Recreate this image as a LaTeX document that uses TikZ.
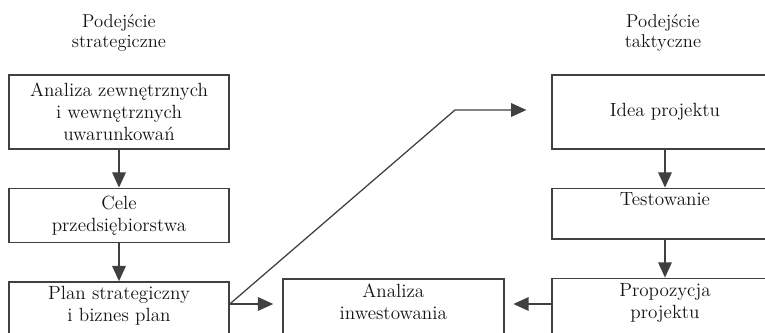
\documentclass[tikz,border=0pt]{standalone}
\usepackage{tikz}
\usetikzlibrary{positioning,arrows.meta}

\begin{document}
\begin{tikzpicture}[x=0.025cm, y=-0.025cm, text=black!92,
    font=\fontsize{13.6}{15.6}\selectfont,
    blok/.style={draw=black!75, line width=1.1pt, align=center, minimum width=5.5cm},
    strz/.style={draw=black!75, line width=0.9pt, -{Triangle[length=0.38cm,width=0.34cm]}},
    tytul/.style={align=center, font=\fontsize{13.2}{14.2}\selectfont}]
  \useasboundingbox (0,0) rectangle (765,333);
  \clip (0,0) rectangle (765,333);

  \node[tytul] (strat) at (119,33) {Podejście\\strategiczne};
  \node[tytul] (takt) at (663,33) {Podejście\\taktyczne};

  % lewa kolumna
  \node[blok, anchor=north, minimum height=1.85cm] (uwar) at (119,74) {Analiza zewnętrznych\\i wewnętrznych\\uwarunkowań};
  \node[blok, below=0.95cm of uwar, minimum height=1.35cm] (cele) {Cele\\przedsiębiorstwa};
  \node[blok, below=0.95cm of cele, text depth=2cm] (plan) {Plan strategiczny\\i biznes plan};

  % prawa kolumna
  \node[blok, anchor=north, minimum width=5.65cm, minimum height=1.85cm] (idea) at (665,74) {Idea projektu};
  \node[blok, below=0.95cm of idea, minimum width=5.65cm, text depth=20pt] (test) {Testowanie};
  \node[blok, below=0.95cm of test, minimum width=5.65cm, text depth=2cm] (prop) {Propozycja\\projektu};

  \node[blok, anchor=north west, minimum width=5.525cm, text depth=2cm] (inw) at (282,278) {Analiza\\inwestowania};

  \coordinate (poziom) at (0,304);
  \coordinate (zalam) at (455,110);

  \draw[strz] (uwar) -- (cele);
  \draw[strz] (cele) -- (plan);
  \draw[strz] (idea) -- (test);
  \draw[strz] (test) -- (prop);
  \draw[strz, shorten >=0.22cm] (plan.east |- poziom) -- (inw.west |- poziom);
  \draw[strz, shorten >=0.22cm] (prop.west |- poziom) -- (inw.east |- poziom);
  \draw[strz, shorten >=0.62cm] (plan.east |- poziom) -- (zalam) -- (idea.west |- zalam);
\end{tikzpicture}
\end{document}
